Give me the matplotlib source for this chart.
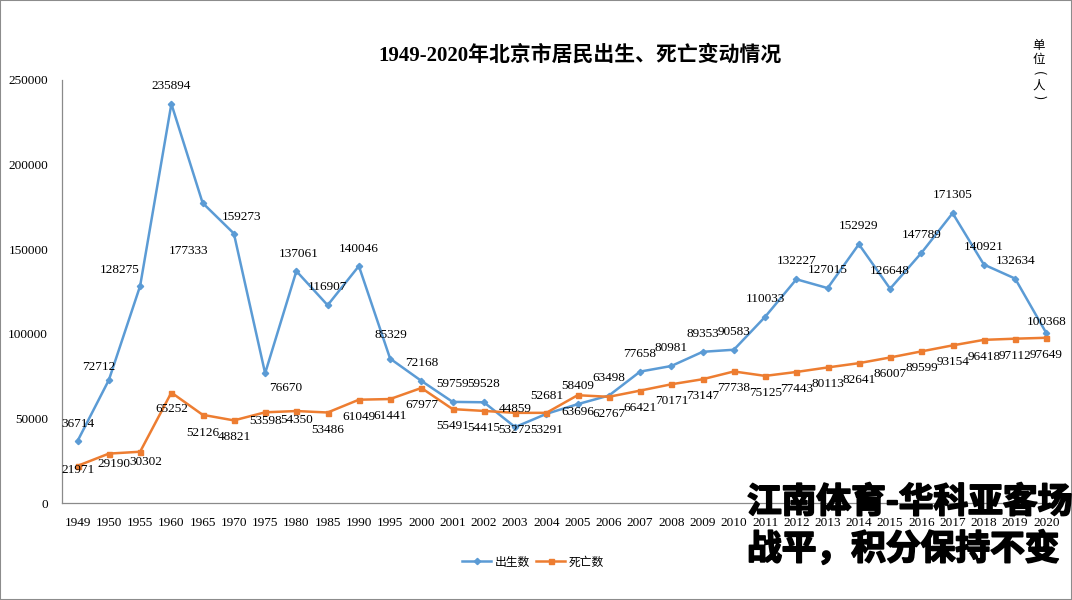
import matplotlib
matplotlib.use('Agg')
import matplotlib.pyplot as plt
import matplotlib.patheffects as pe
import numpy as np
from matplotlib.patches import Rectangle

years = ['1949', '1950', '1955', '1960', '1965', '1970', '1975', '1980', '1985', '1990',
         '1995', '2000', '2001', '2002', '2003', '2004', '2005', '2006', '2007', '2008',
         '2009', '2010', '2011', '2012', '2013', '2014', '2015', '2016', '2017', '2018',
         '2019', '2020']
births = [36714, 72712, 128275, 235894, 177333, 159273, 76670, 137061, 116907, 140046,
          85329, 72168, 59759, 59528, 44859, 52681, 58409, 63498, 77658, 80981,
          89353, 90583, 110033, 132227, 127015, 152929, 126648, 147789, 171305, 140921,
          132634, 100368]
deaths = [21971, 29190, 30302, 65252, 52126, 48821, 53598, 54350, 53486, 61049,
          61441, 67977, 55491, 54415, 53272, 53291, 63696, 62767, 66421, 70171,
          73147, 77738, 75125, 77443, 80113, 82641, 86007, 89599, 93154, 96418,
          97112, 97649]
y_ticks = [0, 50000, 100000, 150000, 200000, 250000]
series_names = ['出生数', '死亡数']
title = '1949-2020年北京市居民出生、死亡变动情况'
unit_chars = ['单', '位', '(', '人', ')']
overlay_1 = '江南体育-华科亚客场'
overlay_2 = '战平，积分保持不变'

# data-label offsets in pixels (dx to the right, dy downward)
birth_offsets = [(0, -17), (-10, -13), (-20, -16), (0, -18), (-14, 48), (8, -17), (21, 15),
                 (2, -17), (0, -18), (0, -17), (1, -24), (0, -18)] + [(0, -18)] * 19 + [(0, -11)]
death_offsets = [(0, 4), (5, 10), (6, 10), (0, 16), (0, 18), (0, 17), (0, 9), (0, 9)] + [(0, 17)] * 24

W, H = 1072, 600
fig = plt.figure(figsize=(W / 100, H / 100), dpi=100)
ax = fig.add_axes([62 / W, 97 / H, 1000 / W, 423 / H])

blue = '#5B9BD5'
orange = '#ED7D31'
x = np.arange(len(years))
ax.plot(x, births, color=blue, lw=1.8, marker='D', ms=3.2, label=series_names[0], zorder=3)
ax.plot(x, deaths, color=orange, lw=1.8, marker='s', ms=3.6, label=series_names[1], zorder=3)

for xi, v, (dx, dy) in zip(x, births, birth_offsets):
    ax.annotate(str(v), (xi, v), xytext=(dx, -dy), textcoords='offset pixels',
                ha='center', va='center', fontsize=9.5, family='Liberation Serif', zorder=4)
for xi, v, (dx, dy) in zip(x, deaths, death_offsets):
    ax.annotate(str(v), (xi, v), xytext=(dx, -dy), textcoords='offset pixels',
                ha='center', va='center', fontsize=9.5, family='Liberation Serif', zorder=4)

ax.set_xlim(-0.5, len(years) - 0.5)
ax.set_ylim(0, 250000)
ax.set_xticks(x)
ax.set_xticklabels(years)
ax.set_yticks(y_ticks)
ax.set_yticklabels([str(t) for t in y_ticks])
for lbl in ax.get_xticklabels() + ax.get_yticklabels():
    lbl.set_fontfamily('Liberation Serif')
    lbl.set_fontsize(9.5)
ax.tick_params(length=0, pad=10)
for s in ['top', 'right']:
    ax.spines[s].set_visible(False)
for s in ['left', 'bottom']:
    ax.spines[s].set_color('#8a8a8a')
    ax.spines[s].set_linewidth(0.9)
ax.set_facecolor('none')

fig.text(580 / W, 1 - 55 / H, title, ha='center', va='center', fontsize=15,
         fontweight='bold', family=['Liberation Serif', 'Noto Sans CJK SC'])

# vertical unit label: 单 位 （ 人 ）, with the brackets turned for vertical writing
unit_y = [45, 59, 73, 86, 97]
unit_rot = [0, 0, -90, 0, -90]
for ch, yy, rot in zip(unit_chars, unit_y, unit_rot):
    fig.text(1039 / W, 1 - yy / H, ch, ha='center', va='center', fontsize=9,
             rotation=rot, family=['Noto Sans CJK SC', 'DejaVu Sans'])

fig.legend(loc='center', bbox_to_anchor=(533 / W, 1 - 562 / H), ncol=2, frameon=False,
           prop={'family': 'Noto Sans CJK SC', 'size': 8.5}, handlelength=2.5,
           handletextpad=0.3, columnspacing=0.5)

stroke = [pe.withStroke(linewidth=1.3, foreground='black')]
fig.text(747 / W, 1 - 502 / H, overlay_1, ha='left', va='center', fontsize=25,
         fontweight='black', family=['Noto Sans CJK SC', 'DejaVu Sans'], color='black',
         zorder=10, path_effects=stroke)
fig.text(747 / W, 1 - 549 / H, overlay_2, ha='left', va='center', fontsize=25,
         fontweight='black', family=['Noto Sans CJK SC', 'DejaVu Sans'], color='black',
         zorder=10, path_effects=stroke)

fig.add_artist(Rectangle((0, 0), 1, 1, transform=fig.transFigure, fill=False,
                         edgecolor='#8c8c8c', lw=1.5))

fig.savefig('out.png', dpi=100, facecolor='white')
